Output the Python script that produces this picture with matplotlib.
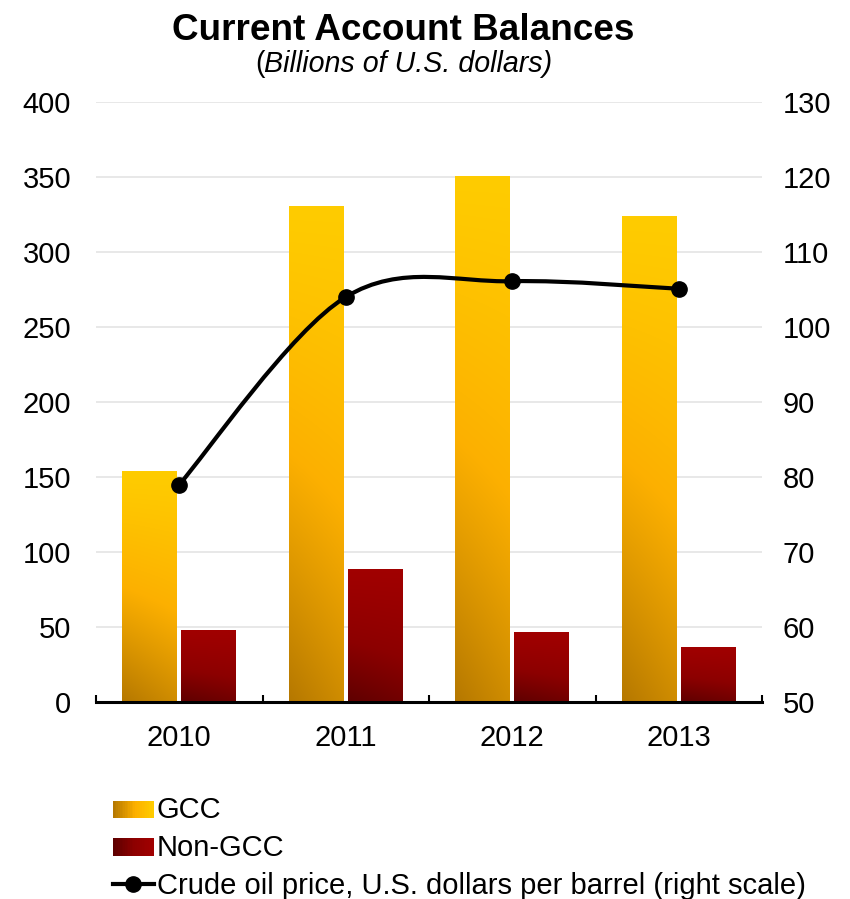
import numpy as np
import matplotlib
matplotlib.use("Agg")
import matplotlib.pyplot as plt
from matplotlib.patches import Rectangle
from matplotlib.path import Path
from matplotlib.patches import PathPatch
from matplotlib.lines import Line2D
from matplotlib.legend_handler import HandlerBase

plt.rcParams['font.family'] = ['Liberation Sans', 'DejaVu Sans']

years = ['2010', '2011', '2012', '2013']
gcc = [154, 331, 351, 324]
non_gcc = [48, 89, 47, 37]
oil_price = [79.0, 104.0, 106.1, 105.1]

left_ticks = [0, 50, 100, 150, 200, 250, 300, 350, 400]
right_ticks = [50, 60, 70, 80, 90, 100, 110, 120, 130]

GCC_STOPS = [(0.0, (1.00, 0.80, 0.00)), (0.45, (0.99, 0.69, 0.00)), (1.0, (0.71, 0.47, 0.00))]
NON_STOPS = [(0.0, (0.63, 0.00, 0.00)), (0.5, (0.55, 0.00, 0.00)), (1.0, (0.37, 0.00, 0.00))]

FS = 21


def blend(stops, d):
    d = np.clip(d, 0, 1)
    out = np.zeros(d.shape + (3,))
    for c in range(3):
        out[..., c] = np.interp(d, [s[0] for s in stops], [s[1][c] for s in stops])
    return out


def gradient_bar(ax, x0, width, height, stops):
    rect = Rectangle((x0, 0), width, height, facecolor='none', edgecolor='none')
    ax.add_patch(rect)
    ny, nx = 200, 40
    v = np.linspace(1, 0, ny)[:, None]   # 1 at top row
    u = np.linspace(0, 1, nx)[None, :]
    d = (1 - v) ** 1.15 * (1 - 0.2 * u)
    img = blend(stops, d)
    im = ax.imshow(img, extent=(x0, x0 + width, 0, height), origin='upper',
                   aspect='auto', interpolation='bilinear', zorder=2)
    im.set_clip_path(rect)


fig = plt.figure(figsize=(8.5, 8.99), dpi=100)
ax = fig.add_axes([96 / 850, 197 / 899, 666 / 850, 600 / 899])

x = np.arange(len(years))
bw = 0.33
off = 0.177
for i in range(len(years)):
    gradient_bar(ax, x[i] - off - bw / 2, bw, gcc[i], GCC_STOPS)
    gradient_bar(ax, x[i] + off - bw / 2, bw, non_gcc[i], NON_STOPS)

ax.set_xlim(-0.5, len(years) - 0.5)
ax.set_ylim(0, 400)
ax.set_yticks(left_ticks)
ax.set_xticks(x)
ax.set_xticklabels(years)
ax.set_xticks(np.arange(-0.5, len(years)), minor=True)
ax.tick_params(axis='x', which='major', length=0, pad=16, labelsize=FS)
ax.tick_params(axis='x', which='minor', direction='in', length=5, width=1.5)
ax.tick_params(axis='y', length=0, pad=18, labelsize=FS)
ax.grid(axis='y', color='#e6e6e6', linewidth=1.3, zorder=0)
ax.set_axisbelow(True)
for s in ['left', 'right', 'top']:
    ax.spines[s].set_visible(False)
ax.spines['bottom'].set_linewidth(2.2)
ax.spines['bottom'].set_zorder(5)

ax2 = ax.twinx()
ax2.set_ylim(50, 130)
ax2.set_yticks(right_ticks)
ax2.tick_params(axis='y', length=0, pad=15, labelsize=FS)
for s in ax2.spines.values():
    s.set_visible(False)

# smoothed oil price curve (cubic Bezier through each point)
pts = np.column_stack([x.astype(float), oil_price])
n = len(pts)
verts = [tuple(pts[0])]
codes = [Path.MOVETO]
for i in range(n - 1):
    p_prev = pts[max(i - 1, 0)]
    p0 = pts[i]
    p1 = pts[i + 1]
    p_next = pts[min(i + 2, n - 1)]
    c1 = p0 + (p1 - p_prev) / 6
    c2 = p1 - (p_next - p0) / 6
    verts += [tuple(c1), tuple(c2), tuple(p1)]
    codes += [Path.CURVE4] * 3
ax2.add_patch(PathPatch(Path(verts, codes), facecolor='none', edgecolor='black',
                        linewidth=3, zorder=4))
ax2.plot(x, oil_price, linestyle='none', marker='o', markersize=11,
         color='black', zorder=5)

fig.text(0.474, 0.955, 'Current Account Balances', ha='center', va='baseline',
         fontsize=26.6, fontweight='bold')
t1 = fig.text(0.300, 0.920, '(', ha='left', va='baseline', fontsize=20.6)
t2 = ax.annotate('Billions of U.S. dollars)', xy=(1, 0), xycoords=t1,
                 ha='left', va='bottom', fontsize=20.6, fontstyle='italic')


class GradientHandler(HandlerBase):
    def __init__(self, stops):
        super().__init__()
        self.stops = stops

    def create_artists(self, legend, orig_handle, xdescent, ydescent,
                       width, height, fontsize, trans):
        arts = []
        k = 24
        cols = blend(self.stops, np.linspace(1, 0, k))
        for j in range(k):
            r = Rectangle((-xdescent + width * j / k, -ydescent + height * 0.0),
                          width / k + 0.3, height * 0.85, facecolor=cols[j],
                          edgecolor='none', transform=trans)
            arts.append(r)
        return arts


h_gcc = Rectangle((0, 0), 1, 1)
h_non = Rectangle((0, 1), 1, 1)
h_oil = Line2D([], [], color='black', linewidth=3, marker='o', markersize=11)
fig.legend([h_gcc, h_non, h_oil],
           ['GCC', 'Non-GCC', 'Crude oil price, U.S. dollars per barrel (right scale)'],
           handler_map={h_gcc: GradientHandler(GCC_STOPS), h_non: GradientHandler(NON_STOPS)},
           loc='upper left', bbox_to_anchor=(0.133, 0.1147), frameon=False,
           fontsize=FS, handlelength=1.4, handletextpad=0.1, labelspacing=0.34,
           borderaxespad=0, borderpad=0)

fig.savefig('out.png', dpi=100, facecolor='white')
